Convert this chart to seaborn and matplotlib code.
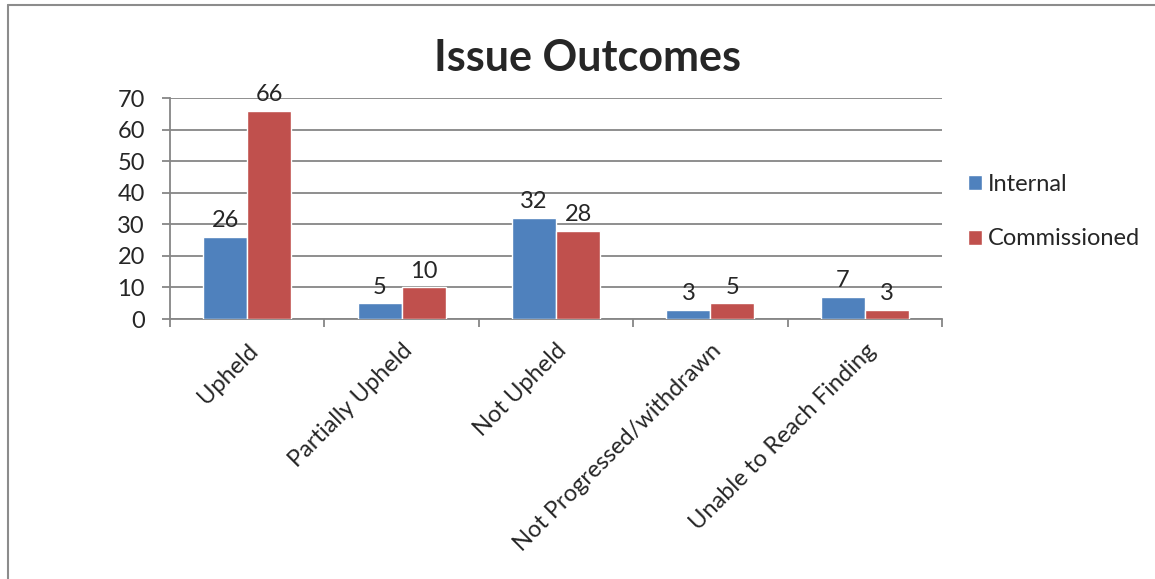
import matplotlib.pyplot as plt
import seaborn as sns
import pandas as pd
from matplotlib.lines import Line2D

outcomes = ['Upheld', 'Partially Upheld', 'Not Upheld',
            'Not Progressed/withdrawn', 'Unable to Reach Finding']
internal = [26, 5, 32, 3, 7]
commissioned = [66, 10, 28, 5, 3]
series = ['Internal', 'Commissioned']

df = pd.DataFrame({
    'outcome': outcomes * 2,
    'count': internal + commissioned,
    'series': [series[0]] * len(outcomes) + [series[1]] * len(outcomes),
})

sns.set_style('white')
plt.rcParams['font.family'] = ['Lato', 'DejaVu Sans']

W, H = 1155, 579
fig = plt.figure(figsize=(W / 100, H / 100), dpi=100)
ax = fig.add_axes([170 / W, 1 - 319 / H, (942 - 170) / W, (319 - 98) / H])

grid_c = '#868686'
sns.barplot(data=df, x='outcome', y='count', hue='series',
            palette=['#4F81BD', '#C0504D'], width=0.57, saturation=1,
            ax=ax, zorder=3)

for cont in ax.containers:
    ax.bar_label(cont, fontsize=17, padding=4)

ax.set_ylim(0, 70)
ax.set_xlim(-0.5, 4.5)
ax.set_yticks(range(0, 71, 10))
ax.yaxis.grid(True, color=grid_c, linewidth=1.3, zorder=0)
ax.set_axisbelow(True)
for s in ['top', 'right']:
    ax.spines[s].set_visible(False)
for s in ['left', 'bottom']:
    ax.spines[s].set_color(grid_c)
    ax.spines[s].set_linewidth(1.3)

ax.tick_params(axis='y', labelsize=17, length=6, color=grid_c, width=1.3, left=True, pad=12)
ax.set_xticks(range(len(outcomes)))
ax.set_xticklabels(outcomes, rotation=45, ha='right', rotation_mode='anchor', fontsize=17)
ax.tick_params(axis='x', length=0, pad=15)
ax.set_xticks([i - 0.5 for i in range(len(outcomes) + 1)], minor=True)
ax.tick_params(axis='x', which='minor', length=6, color=grid_c, width=1.3, bottom=True)
ax.set_xlabel('')
ax.set_ylabel('')

ax.legend(loc='center left', bbox_to_anchor=(1.006, 0.485), frameon=False,
          fontsize=17, handlelength=0.6, handleheight=0.6, handletextpad=0.25,
          labelspacing=1.4)

fig.text(587 / W, 1 - 58 / H, 'Issue Outcomes', ha='center', va='center',
         fontsize=31, fontweight='bold')

# chart border (cropped on right and bottom)
fig.add_artist(Line2D([8 / W, 8 / W], [0, 1 - 5 / H], color='#8c8c8c', linewidth=1.5))
fig.add_artist(Line2D([8 / W, 1], [1 - 5 / H, 1 - 5 / H], color='#8c8c8c', linewidth=1.5))

fig.savefig('out.png', dpi=100)
